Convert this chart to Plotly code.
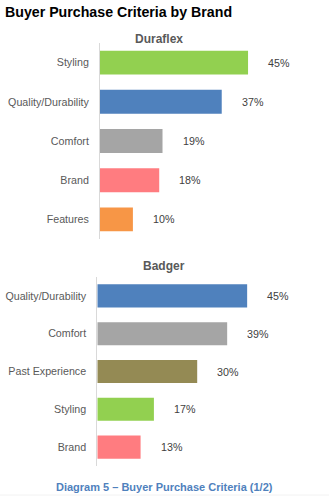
import plotly.graph_objects as go

title_text = "Buyer Purchase Criteria by Brand"
caption_text = "Diagram 5 \u2013 Buyer Purchase Criteria (1/2)"

dura_title = "Duraflex"
dura_cats = ["Styling", "Quality/Durability", "Comfort", "Brand", "Features"]
dura_vals = [45, 37, 19, 18, 10]
dura_colors = ["#92D050", "#4F81BD", "#A5A5A5", "#FF7C80", "#F79646"]

badger_title = "Badger"
badger_cats = ["Quality/Durability", "Comfort", "Past Experience", "Styling", "Brand"]
badger_vals = [45, 39, 30, 17, 13]
badger_colors = ["#4F81BD", "#A5A5A5", "#948A54", "#92D050", "#FF7C80"]

W, H = 329, 501
FONT = "Liberation Sans, Arial, sans-serif"
LABEL_COLOR = "#595959"
VAL_COLOR = "#404040"

fig = go.Figure()
fig.add_trace(go.Bar(x=dura_vals, y=dura_cats, orientation="h",
                     marker=dict(color=dura_colors, line=dict(width=0)),
                     xaxis="x", yaxis="y", hoverinfo="skip", showlegend=False))
fig.add_trace(go.Bar(x=badger_vals, y=badger_cats, orientation="h",
                     marker=dict(color=badger_colors, line=dict(width=0)),
                     xaxis="x2", yaxis="y2", hoverinfo="skip", showlegend=False))

annotations = []
for c, v in zip(dura_cats, dura_vals):
    annotations.append(dict(x=v, y=c, xref="x", yref="y", text=f"{v}%",
                            showarrow=False, xanchor="left", xshift=18,
                            font=dict(family=FONT, size=10.7, color=VAL_COLOR)))
for c, v in zip(badger_cats, badger_vals):
    annotations.append(dict(x=v, y=c, xref="x2", yref="y2", text=f"{v}%",
                            showarrow=False, xanchor="left", xshift=18,
                            font=dict(family=FONT, size=10.7, color=VAL_COLOR)))

annotations.append(dict(x=3 / W, y=1 - 12 / H, xref="paper", yref="paper",
                        text=f"<b>{title_text}</b>", showarrow=False,
                        xanchor="left", yanchor="middle",
                        font=dict(family=FONT, size=14.2, color="#000000")))
annotations.append(dict(x=158.5 / W, y=1 - 39 / H, xref="paper", yref="paper",
                        text=f"<b>{dura_title}</b>", showarrow=False,
                        xanchor="center", yanchor="middle",
                        font=dict(family=FONT, size=12, color="#595959")))
annotations.append(dict(x=163.5 / W, y=1 - 266 / H, xref="paper", yref="paper",
                        text=f"<b>{badger_title}</b>", showarrow=False,
                        xanchor="center", yanchor="middle",
                        font=dict(family=FONT, size=12, color="#595959")))
annotations.append(dict(x=164.5 / W, y=1 - 487 / H, xref="paper", yref="paper",
                        text=f"<b>{caption_text}</b>", showarrow=False,
                        xanchor="center", yanchor="middle",
                        font=dict(family=FONT, size=11, color="#4F81BD")))

axis_common = dict(showgrid=False, zeroline=False, showticklabels=False,
                   range=[0, 65], fixedrange=True)
yaxis_common = dict(showgrid=False, zeroline=False, showline=True,
                    linecolor="#D9D9D9", linewidth=1,
                    tickfont=dict(family=FONT, size=10.7, color=LABEL_COLOR),
                    ticks="", ticklabelstandoff=8, autorange="reversed",
                    fixedrange=True)

fig.update_layout(
    width=W, height=H,
    margin=dict(l=0, r=0, t=0, b=0),
    paper_bgcolor="white", plot_bgcolor="white",
    bargap=0.39,
    xaxis=dict(domain=[100 / W, (100 + 65 * 3.29) / W], anchor="y", **axis_common),
    yaxis=dict(domain=[1 - 239 / H, 1 - 43 / H], anchor="x", **yaxis_common),
    xaxis2=dict(domain=[97.3 / W, (97.3 + 65 * 3.33) / W], anchor="y2", **axis_common),
    yaxis2=dict(domain=[1 - 466 / H, 1 - 277 / H], anchor="x2", **yaxis_common),
    annotations=annotations,
)

fig.add_shape(type="line", xref="paper", yref="paper", x0=0, x1=1,
              y0=1 - 495 / H, y1=1 - 495 / H,
              line=dict(color="#F2F2F2", width=1))

fig.write_html("out.html")
